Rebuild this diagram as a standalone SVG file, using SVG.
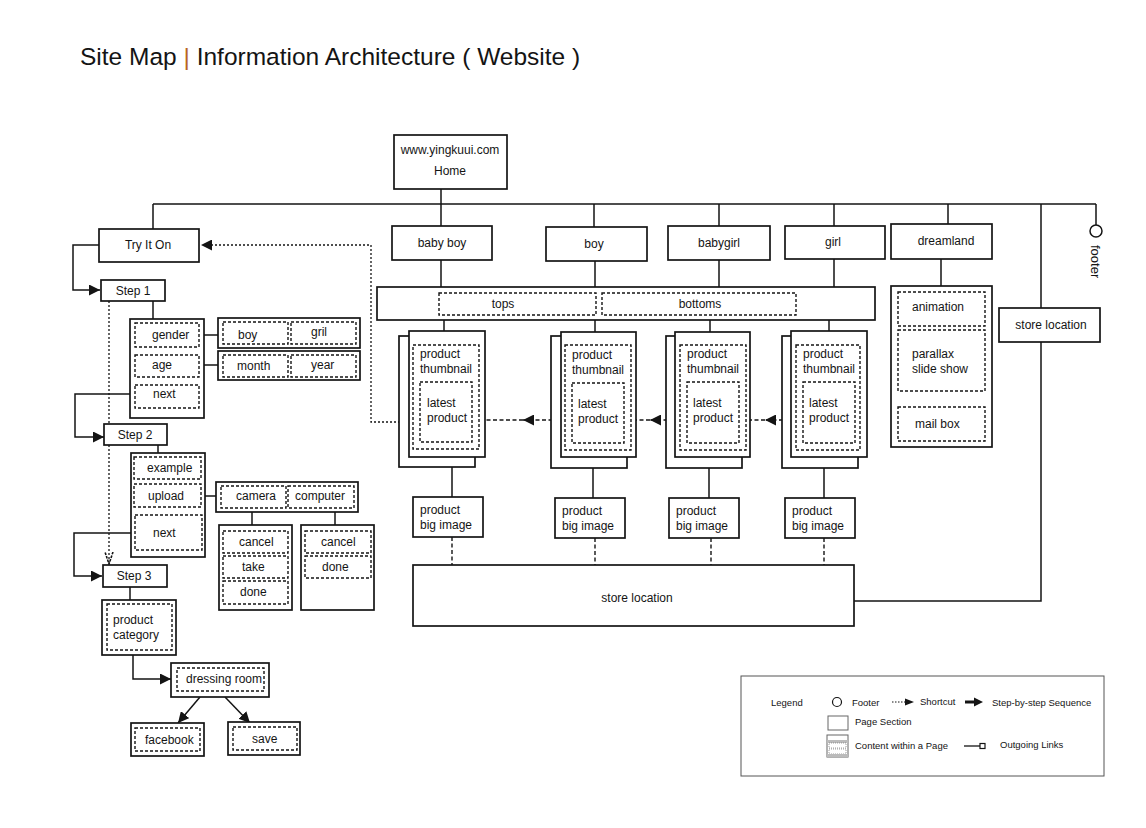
<svg xmlns="http://www.w3.org/2000/svg" width="1146" height="828" viewBox="0 0 1146 828">
<defs>
<style>
text{font-family:"Liberation Sans",Arial,sans-serif;font-size:12px;fill:#141414}
.m{text-anchor:middle}
.box{fill:#fff;stroke:#141414;stroke-width:1.7}
.dsh{fill:none;stroke:#141414;stroke-width:1.4;stroke-dasharray:3 2}
.ln{fill:none;stroke:#141414;stroke-width:1.5}
.dl{fill:none;stroke:#141414;stroke-width:1.4;stroke-dasharray:4 2.5}
.dt{fill:none;stroke:#141414;stroke-width:1.3;stroke-dasharray:2 2}
.lg{font-size:9.5px}
</style>
<marker id="tri" viewBox="0 0 10 10" refX="10" refY="5" markerWidth="11" markerHeight="11" orient="auto" markerUnits="userSpaceOnUse"><path d="M0,0 L10,5 L0,10 z" fill="#141414"/></marker>
<marker id="vopen" viewBox="0 0 12 10" refX="12" refY="5" markerWidth="13" markerHeight="10" orient="auto" markerUnits="userSpaceOnUse"><path d="M0,1 L12,5 L0,9" fill="none" stroke="#141414" stroke-width="1.6" stroke-dasharray="2.5 1.2"/></marker>
</defs>
<rect width="1146" height="828" fill="#fff"/>

<text x="80" y="65" style="font-size:24.5px">Site Map <tspan fill="#b8651f">|</tspan> Information Architecture ( Website )</text>

<g id="connectors">
<path class="ln" d="M153,204 H1096 M441,189 V204 M153,204 V229 M441,204 V226 M594,204 V227 M719,204 V226 M834,204 V226 M948,204 V224 M1041,204 V308 M1096,204 V225"/>
<path class="ln" d="M441,260 V287 M595,261 V287 M719,260 V287 M834,259 V287 M444,320 V331 M595,320 V332 M710,320 V332 M829,320 V331 M452,467 V497 M593,468 V498 M709,468 V498 M824,468 V498 M941,259 V286 M1041,342 V601 H854"/>
<path class="dl" d="M452,537 V565 M595,538 V565 M711,538 V565 M824,538 V565"/>
<path class="dl" d="M796,420 H765" marker-end="url(#tri)"/>
<path class="dl" d="M765,420 H740"/>
<path class="dl" d="M687,420 H650" marker-end="url(#tri)"/>
<path class="dl" d="M650,420 H624"/>
<path class="dl" d="M572,420 H523" marker-end="url(#tri)"/>
<path class="dl" d="M523,420 H472"/>
<path class="dt" d="M420,422 H371 V245 H201" marker-end="url(#tri)"/>
<path class="ln" d="M99,245 H73 V290 H100" marker-end="url(#tri)"/>
<path class="ln" d="M153,301 V319 M204,335 H218 M204,365 H218"/>
<path class="ln" d="M135,394 H75 V437 H104" marker-end="url(#tri)"/>
<path class="dt" d="M109,301 V564" marker-end="url(#vopen)"/>
<path class="ln" d="M158,445 V453 M201,496 H216 M252,512 V525 M335,512 V525"/>
<path class="ln" d="M135,533 H74 V576 H102" marker-end="url(#tri)"/>
<path class="ln" d="M130,587 V600"/>
<path class="ln" d="M133,655 V679 H171" marker-end="url(#tri)"/>
<path class="ln" d="M200,697 L178,723" marker-end="url(#tri)"/>
<path class="ln" d="M225,697 L250,723" marker-end="url(#tri)"/>
</g>

<g id="home"><rect class="box" x="394" y="135" width="113" height="54"/><text class="m" x="450" y="154">www.yingkuui.com</text><text class="m" x="450" y="175">Home</text></g>

<g id="footer"><circle cx="1096" cy="231" r="6" fill="#fff" stroke="#141414" stroke-width="1.5"/><text transform="translate(1091,245) rotate(90)" style="font-size:13px">footer</text></g>

<g id="babyboy"><rect class="box" x="392" y="226" width="100" height="34"/><text class="m" x="442" y="247">baby boy</text></g>
<g id="boy"><rect class="box" x="546" y="227" width="101" height="34"/><text class="m" x="594" y="248">boy</text></g>
<g id="babygirl"><rect class="box" x="668" y="226" width="102" height="34"/><text class="m" x="719" y="247">babygirl</text></g>
<g id="girl"><rect class="box" x="785" y="226" width="100" height="33"/><text class="m" x="833" y="246">girl</text></g>
<g id="dreamland"><rect class="box" x="891" y="224" width="101" height="35"/><text class="m" x="946" y="245">dreamland</text></g>

<g id="tops-bottoms"><rect class="box" x="377" y="287" width="498" height="33"/><rect class="dsh" x="439" y="293" width="157" height="22"/><rect class="dsh" x="602" y="293" width="194" height="22"/><text class="m" x="503" y="308">tops</text><text class="m" x="700" y="308">bottoms</text></g>

<g id="stack1"><rect class="box" x="399" y="336" width="76" height="131"/><rect class="box" x="409" y="331" width="76" height="126"/><rect class="dsh" x="413" y="345" width="66" height="104"/><rect class="dsh" x="420" y="382" width="52" height="60"/><text x="420" y="358">product</text><text x="420" y="373">thumbnail</text><text x="427" y="407">latest</text><text x="427" y="422">product</text></g>
<g id="stack2"><rect class="box" x="551" y="336" width="76" height="132"/><rect class="box" x="561" y="332" width="75" height="125"/><rect class="dsh" x="565" y="345" width="66" height="105"/><rect class="dsh" x="572" y="383" width="52" height="60"/><text x="572" y="359">product</text><text x="572" y="374">thumbnail</text><text x="578" y="408">latest</text><text x="578" y="423">product</text></g>
<g id="stack3"><rect class="box" x="666" y="336" width="76" height="132"/><rect class="box" x="675" y="332" width="75" height="125"/><rect class="dsh" x="680" y="345" width="66" height="105"/><rect class="dsh" x="687" y="382" width="52" height="61"/><text x="687" y="358">product</text><text x="687" y="373">thumbnail</text><text x="693" y="407">latest</text><text x="693" y="422">product</text></g>
<g id="stack4"><rect class="box" x="782" y="336" width="76" height="132"/><rect class="box" x="791" y="331" width="76" height="126"/><rect class="dsh" x="796" y="345" width="64" height="105"/><rect class="dsh" x="803" y="382" width="52" height="61"/><text x="803" y="358">product</text><text x="803" y="373">thumbnail</text><text x="809" y="407">latest</text><text x="809" y="422">product</text></g>

<g id="bigimage1"><rect class="box" x="413" y="497" width="70" height="40"/><text x="420" y="514">product</text><text x="420" y="529">big image</text></g>
<g id="bigimage2"><rect class="box" x="555" y="498" width="70" height="40"/><text x="562" y="515">product</text><text x="562" y="530">big image</text></g>
<g id="bigimage3"><rect class="box" x="669" y="498" width="70" height="40"/><text x="676" y="515">product</text><text x="676" y="530">big image</text></g>
<g id="bigimage4"><rect class="box" x="785" y="498" width="70" height="40"/><text x="792" y="515">product</text><text x="792" y="530">big image</text></g>

<g id="store-location-main"><rect class="box" x="413" y="565" width="441" height="61"/><text class="m" x="637" y="602">store location</text></g>
<g id="store-location"><rect class="box" x="999" y="308" width="101" height="34"/><text class="m" x="1051" y="329">store location</text></g>

<g id="dreamland-content"><rect class="box" x="891" y="286" width="101" height="161"/><rect class="dsh" x="898" y="292" width="87" height="34"/><rect class="dsh" x="898" y="330" width="87" height="61"/><rect class="dsh" x="898" y="407" width="87" height="34"/><text x="912" y="311">animation</text><text x="912" y="358">parallax</text><text x="912" y="373">slide show</text><text x="915" y="428">mail box</text></g>

<g id="tryiton"><rect class="box" x="99" y="229" width="100" height="33"/><text class="m" x="148" y="249">Try It On</text></g>
<g id="step1"><rect class="box" x="101" y="280" width="64" height="21"/><text class="m" x="133" y="295">Step 1</text></g>
<g id="step1-content"><rect class="box" x="130" y="319" width="74" height="99"/><rect class="dsh" x="135" y="323" width="64" height="24"/><rect class="dsh" x="135" y="355" width="64" height="22"/><rect class="dsh" x="135" y="385" width="64" height="23"/><text x="152" y="339">gender</text><text x="152" y="369">age</text><text x="153" y="398">next</text></g>
<g id="gender-options"><rect class="box" x="218" y="318" width="142" height="30"/><rect class="dsh" x="223" y="322" width="65" height="22"/><rect class="dsh" x="291" y="322" width="65" height="22"/><text x="238" y="339">boy</text><text x="311" y="336">gril</text></g>
<g id="age-options"><rect class="box" x="218" y="351" width="142" height="29"/><rect class="dsh" x="223" y="355" width="65" height="22"/><rect class="dsh" x="291" y="355" width="65" height="22"/><text x="237" y="370">month</text><text x="311" y="369">year</text></g>

<g id="step2"><rect class="box" x="104" y="424" width="63" height="21"/><text class="m" x="135" y="439">Step 2</text></g>
<g id="step2-content"><rect class="box" x="131" y="453" width="74" height="104"/><rect class="dsh" x="134" y="457" width="67" height="22"/><rect class="dsh" x="134" y="484" width="67" height="23"/><rect class="dsh" x="135" y="515" width="67" height="35"/><text x="147" y="472">example</text><text x="148" y="500">upload</text><text x="153" y="537">next</text></g>
<g id="upload-options"><rect class="box" x="216" y="482" width="142" height="30"/><rect class="dsh" x="221" y="486" width="65" height="22"/><rect class="dsh" x="288" y="486" width="66" height="22"/><text x="236" y="500">camera</text><text x="295" y="500">computer</text></g>
<g id="camera-content"><rect class="box" x="219" y="525" width="73" height="85"/><rect class="dsh" x="223" y="531" width="65" height="22"/><rect class="dsh" x="223" y="556" width="65" height="22"/><rect class="dsh" x="223" y="581" width="65" height="23"/><text x="239" y="546">cancel</text><text x="242" y="571">take</text><text x="240" y="596">done</text></g>
<g id="computer-content"><rect class="box" x="301" y="525" width="73" height="85"/><rect class="dsh" x="305" y="531" width="66" height="22"/><rect class="dsh" x="305" y="556" width="66" height="22"/><text x="321" y="546">cancel</text><text x="322" y="571">done</text></g>

<g id="step3"><rect class="box" x="103" y="565" width="64" height="22"/><text class="m" x="134" y="580">Step 3</text></g>
<g id="product-category"><rect class="box" x="102" y="600" width="74" height="55"/><rect class="dsh" x="107" y="604" width="65" height="46"/><text x="113" y="624">product</text><text x="113" y="639">category</text></g>
<g id="dressing-room"><rect class="box" x="171" y="663" width="98" height="34"/><rect class="dsh" x="177" y="668" width="87" height="23"/><text x="186" y="683">dressing room</text></g>
<g id="facebook"><rect class="box" x="131" y="723" width="73" height="33"/><rect class="dsh" x="135" y="728" width="65" height="23"/><text x="145" y="744">facebook</text></g>
<g id="save"><rect class="box" x="228" y="722" width="72" height="33"/><rect class="dsh" x="233" y="727" width="64" height="23"/><text x="252" y="743">save</text></g>

<g id="legend">
<rect x="741" y="676" width="363" height="100" fill="#fff" stroke="#555" stroke-width="1"/>
<text class="lg" x="771" y="706">Legend</text>
<circle cx="837" cy="702" r="4.5" fill="none" stroke="#141414" stroke-width="1.2"/>
<text class="lg" x="852" y="706">Footer</text>
<path d="M892,702 H905" fill="none" stroke="#141414" stroke-width="1" stroke-dasharray="1.5 1.5"/>
<path d="M905,698.5 L914,702 L905,705.5 z" fill="#141414"/>
<text class="lg" x="920" y="705">Shortcut</text>
<path d="M965,702 H975" fill="none" stroke="#141414" stroke-width="3"/>
<path d="M974,697.5 L983,702 L974,706.5 z" fill="#141414"/>
<text class="lg" x="992" y="706">Step-by-step Sequence</text>
<rect x="828" y="716" width="20" height="14" fill="#fff" stroke="#666" stroke-width="1"/>
<text class="lg" x="855" y="725">Page Section</text>
<rect x="827" y="735" width="21" height="22" fill="#fff" stroke="#666" stroke-width="1"/>
<rect x="827" y="740" width="21" height="3" fill="#bbb"/>
<rect x="829" y="743" width="17" height="5" fill="#fff" stroke="#777" stroke-width="0.7" stroke-dasharray="1 1"/>
<rect x="829" y="749" width="17" height="5" fill="#fff" stroke="#777" stroke-width="0.7" stroke-dasharray="1 1"/>
<rect x="827" y="754" width="21" height="3" fill="#bbb"/>
<text class="lg" x="855" y="749">Content within a Page</text>
<path d="M964,746 H980" fill="none" stroke="#141414" stroke-width="1.3"/>
<rect x="980" y="743.5" width="5" height="5" fill="#fff" stroke="#141414" stroke-width="1.2"/>
<text class="lg" x="1000" y="748">Outgoing Links</text>
</g>
</svg>
